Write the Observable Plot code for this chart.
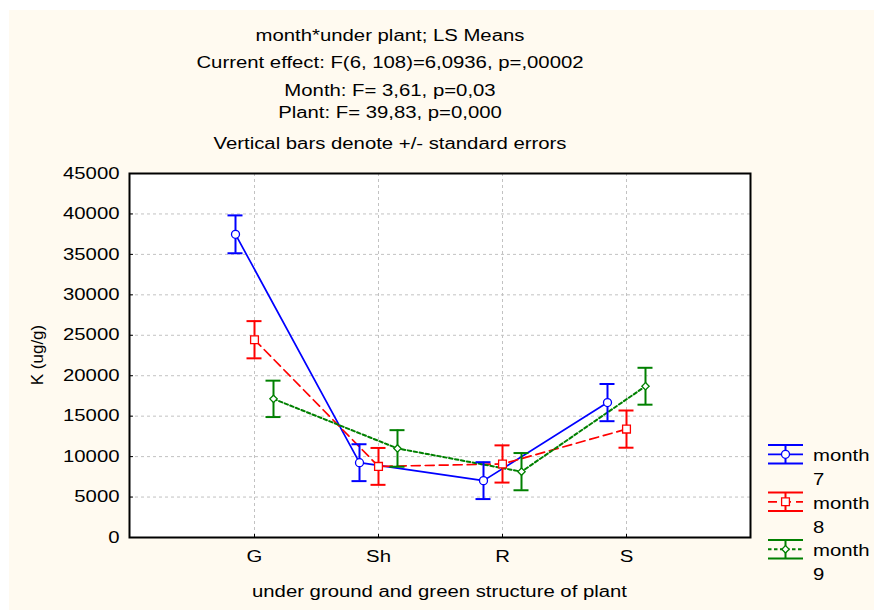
<!DOCTYPE html>
<html><head><meta charset="utf-8">
<script src="https://cdn.jsdelivr.net/npm/d3@7"></script>
<script src="https://cdn.jsdelivr.net/npm/@observablehq/plot@0.6"></script>
<style>
html,body{margin:0;padding:0;background:#ffffff;width:874px;height:610px;overflow:hidden;}
#bg{position:absolute;left:9px;top:10px;width:865px;height:600px;background:#fffaf0;}
#chart,#over{position:absolute;left:0;top:0;}
svg text{font-family:"Liberation Sans",Arial,sans-serif;}
</style></head><body>
<div id="bg"></div><div id="chart"></div><svg id="over" width="874" height="610"></svg>
<script>
// ---- data ----
const categories = ["G", "Sh", "R", "S"];
const months = ["7", "8", "9"];
const mean7 = [37480, 9250, 7030, 16680];
const se7 = [2340, 2280, 2280, 2300];
const mean8 = [24450, 8790, 9090, 13400];
const se8 = [2300, 2280, 2300, 2300];
const mean9 = [17140, 11010, 8140, 18700];
const se9 = [2250, 2260, 2300, 2280];
const yTicks = [0, 5000, 10000, 15000, 20000, 25000, 30000, 35000, 40000, 45000];
const titleLines = [
  "month*under plant; LS Means",
  "Current effect: F(6, 108)=6,0936, p=,00002",
  "Month: F= 3,61, p=0,03",
  "Plant: F= 39,83, p=0,000",
  "Vertical bars denote +/- standard errors"
];
const xLabel = "under ground and green structure of plant";
const yLabel = "K (ug/g)";
const legendWord = "month";

// ---- styles ----
const look = {
  "7": {color: "#0000ff", dash: undefined, width: 1.7, symbol: "circle", r: 4, dx: -19},
  "8": {color: "#ff0000", dash: "9,5", width: 1.7, symbol: "square", r: 4.4, dx: 0},
  "9": {color: "#008000", dash: "3.5,2.5", width: 2, symbol: "diamond2", r: 3.3, dx: 19}
};
const STRETCH = 1.27;

const seriesMeans = {"7": mean7, "8": mean8, "9": mean9};
const seriesSE = {"7": se7, "8": se8, "9": se9};
const tables = {};
for (const m of months) {
  tables[m] = categories.map((c, i) => ({
    month: m, cat: c, mean: seriesMeans[m][i],
    lo: seriesMeans[m][i] - seriesSE[m][i], hi: seriesMeans[m][i] + seriesSE[m][i]
  }));
}

const grid = {stroke: "#c2c2c2", strokeOpacity: 1, strokeDasharray: "3,3"};
const marks = [
  Plot.frame({fill: "white", stroke: "none"}),
  Plot.gridY(yTicks, grid),
  Plot.gridX(categories, grid)
];
for (const m of months) {
  const s = look[m];
  marks.push(Plot.line(tables[m], {x: "cat", y: "mean", stroke: s.color, strokeWidth: s.width,
    strokeDasharray: s.dash, dx: s.dx}));
}
for (const m of months) {
  const s = look[m], d = tables[m];
  const cap = {x1: "cat", x2: "cat", stroke: s.color, strokeWidth: 2, dx: s.dx, insetLeft: -7.5, insetRight: -7.5};
  marks.push(
    Plot.ruleX(d, {x: "cat", y1: "lo", y2: "hi", stroke: s.color, strokeWidth: 2, dx: s.dx}),
    Plot.ruleY(d, {...cap, y: "lo"}),
    Plot.ruleY(d, {...cap, y: "hi"}),
    Plot.dot(d, {x: "cat", y: "mean", symbol: s.symbol, r: s.r, fill: "white", stroke: s.color, strokeWidth: 1.3, dx: s.dx})
  );
}
marks.push(
  Plot.frame({stroke: "#000", strokeWidth: 2}),
  Plot.axisY(yTicks, {tickSize: -4, tickPadding: 14, fontSize: 16, tickFormat: d => String(d), label: null}),
  Plot.axisX(categories, {tickSize: -3, tickPadding: 16, fontSize: 16, label: null})
);

const chart = Plot.plot({
  width: 874, height: 610,
  marginLeft: 129, marginRight: 124, marginTop: 173, marginBottom: 73,
  x: {type: "point", domain: categories, padding: 1},
  y: {domain: [0, 45000]},
  style: {background: "transparent", fontFamily: "Liberation Sans, Arial, sans-serif", fontSize: "16px", color: "#000"},
  marks
});
document.getElementById("chart").appendChild(chart);

// ---- overlay text and legend ----
const over = d3.select("#over");
const capOff = 5.75; // half cap height at 16px
const titleY = [35, 62.5, 90.5, 112.5, 143];
titleLines.forEach((t, i) => {
  over.append("text").attr("class", "st").attr("x", 390).attr("y", titleY[i] + capOff)
    .attr("text-anchor", "middle").attr("font-size", 16).attr("fill", "#000").text(t);
});
over.append("text").attr("class", "st").attr("x", 439.5).attr("y", 591.5 + capOff)
  .attr("text-anchor", "middle").attr("font-size", 16).attr("fill", "#000").text(xLabel);
over.append("text").attr("transform", "translate(43,355) rotate(-90)")
  .attr("text-anchor", "middle").attr("font-size", 17).attr("fill", "#000").text(yLabel);

const legTop = {"7": 445, "8": 492.5, "9": 540};
for (const m of months) {
  const s = look[m], t = legTop[m], g = over.append("g");
  const x0 = 768, x1 = 803, xc = (x0 + x1) / 2, mid = t + 9.3, bot = t + 18.5;
  g.append("line").attr("x1", x0).attr("x2", x1).attr("y1", t).attr("y2", t).attr("stroke", s.color).attr("stroke-width", 2);
  g.append("line").attr("x1", x0).attr("x2", x1).attr("y1", bot).attr("y2", bot).attr("stroke", s.color).attr("stroke-width", 2);
  g.append("line").attr("x1", xc).attr("x2", xc).attr("y1", t).attr("y2", bot).attr("stroke", s.color).attr("stroke-width", 2);
  g.append("line").attr("x1", x0).attr("x2", x1).attr("y1", mid).attr("y2", mid).attr("stroke", s.color)
    .attr("stroke-width", s.width).attr("stroke-dasharray", s.dash || null);
  const sym = {circle: d3.symbolCircle, square: d3.symbolSquare, diamond2: d3.symbolDiamond2}[s.symbol];
  g.append("path").attr("transform", `translate(${xc},${mid})`).attr("d", d3.symbol(sym, Math.PI * s.r * s.r)())
    .attr("fill", "white").attr("stroke", s.color).attr("stroke-width", 1.3);
  g.append("text").attr("class", "st").attr("x", 813).attr("y", mid + 1 + capOff).attr("font-size", 16).attr("fill", "#000").text(legendWord);
  g.append("text").attr("class", "st").attr("x", 813).attr("y", mid + 25 + capOff).attr("font-size", 16).attr("fill", "#000").text(m);
}

function stretch(nodes) {
  nodes.forEach(n => {
    const w = n.getComputedTextLength();
    if (w > 0) { n.setAttribute("textLength", (w * STRETCH).toFixed(1)); n.setAttribute("lengthAdjust", "spacingAndGlyphs"); }
  });
}
stretch(Array.from(document.querySelectorAll("#chart svg text")));
stretch(Array.from(document.querySelectorAll("#over text.st")));
</script></body></html>
